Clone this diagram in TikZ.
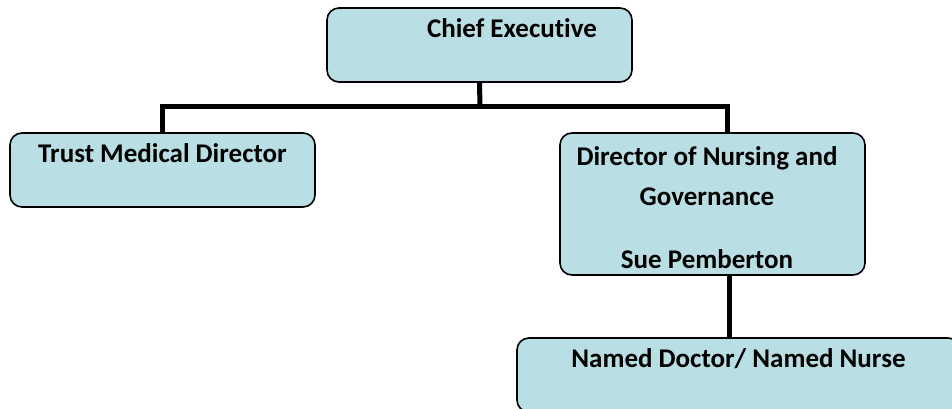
\documentclass[tikz,border=0pt]{standalone}
\usepackage{fontspec}
\setmainfont[Ligatures=NoCommon]{Carlito}
\usepackage{xcolor}
\usetikzlibrary{positioning}
\definecolor{boxfill}{RGB}{185,223,228}

\begin{document}
\begin{tikzpicture}[
    x=1pt, y=-1pt,
    box/.style={rectangle, draw=black, fill=boxfill, line width=1.6pt, rounded corners=12pt, minimum width=305pt, minimum height=74pt},
    lbl/.style={font=\bfseries\fontsize{27}{40}\selectfont, inner sep=0pt, align=center},
    conn/.style={line width=5pt}
]
    \useasboundingbox (0,0) rectangle (952,409);
    \clip (0,0) rectangle (952,409);

    % Boxes
    \node[box] (chief) at (479.5,45) {};
    \node[box] (trust) at (162.5,170) {};
    \node[box, minimum height=142pt] (nursing) at (712.5,204) {};
    \node[box, minimum width=443pt] (named) at (738.5,375) {};

    % Texts
    \node[lbl, anchor=base] (chieftxt) at ([xshift=32.5pt,yshift=-30pt]chief.north) {Chief Executive};
    \node[lbl, anchor=base] (trusttxt) at ([yshift=-30pt]trust.north) {Trust Medical Director};
    \node[lbl, anchor=north] (nursingtxt) at ([xshift=-5.5pt,yshift=-14pt]nursing.north) {Director of Nursing and\\Governance\\[23pt]Sue Pemberton};
    \node[lbl, anchor=base] (namedtxt) at ([yshift=-30pt]named.north) {Named Doctor/ Named Nurse};

    % Connectors
    \coordinate (bus) at (480,107);
    \draw[conn] (chief.south) -- (bus);
    \draw[conn] (trust.north) |- (bus) -| ([xshift=14.5pt]nursing.north);
    \draw[conn] ([xshift=16.5pt]nursing.south) -- ([xshift=16.5pt]nursing.south |- named.north);
\end{tikzpicture}
\end{document}
